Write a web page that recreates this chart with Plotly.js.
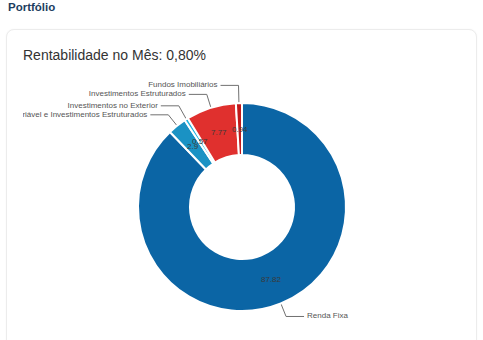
<!DOCTYPE html>
<html>
<head>
<meta charset="utf-8">
<script src="https://cdn.plot.ly/plotly-3.0.1.min.js"></script>
<style>
  html, body { margin: 0; padding: 0; background: #ffffff; width: 483px; height: 340px; overflow: hidden; }
  #hdr { position: absolute; left: 8px; top: 1px; font: bold 11.5px "Liberation Sans", Arial, sans-serif; color: #1d3d60; }
  #card { position: absolute; left: 6px; top: 29px; width: 469px; height: 320px; border: 1px solid #ececec; border-radius: 8px; box-shadow: 0 0 2px rgba(0,0,0,0.04); background: #fff; }
  #chart { position: absolute; left: 0; top: 0; width: 483px; height: 340px; }
</style>
</head>
<body>
<div id="hdr">Portfólio</div>
<div id="card"></div>
<div id="chart"></div>
<script>
// ---- data ----
const categories = [
  'Renda Fixa',
  'Renda Variável e Investimentos Estruturados',
  'Investimentos no Exterior',
  'Investimentos Estruturados',
  'Fundos Imobiliários'
];
const values = [87.82, 2.9, 0.57, 7.77, 0.94];
const colors = ['#0b65a5', '#1a92c4', '#22b4e1', '#e0302e', '#c0191b'];
const titleText = 'Rentabilidade no Mês: 0,80%';

// ---- geometry (pixels) ----
const W = 483, H = 340;
const ML = 23;             // chart area left edge (clips long labels like the original)
const CX = 242, CY = 207;  // donut centre
const R = 104;             // outer radius
const HOLE = 0.5;
const LEAD = 14, HSEG = 18, GAP = 9, TXTGAP = 3;

const total = values.reduce((a, b) => a + b, 0);
let cum = 0;
const mids = values.map(v => { const m = (cum + v / 2) / total * 2 * Math.PI; cum += v; return m; });
const pt = (ang, rad) => [CX + rad * Math.sin(ang), CY - rad * Math.cos(ang)];

// value labels (mid ring)
const rMid = R * (1 + HOLE) / 2;
const valPts = mids.map(a => pt(a, rMid));

// leader lines with simple vertical collision avoidance per side
const items = mids.map((a, i) => {
  const e = pt(a, R);
  const k = pt(a, R + LEAD);
  return { i, side: Math.sin(a) >= 0 ? 1 : -1, edge: e, ex: k[0], ey: k[1] };
});
[-1, 1].forEach(side => {
  const s = items.filter(o => o.side === side).sort((a, b) => b.ey - a.ey);
  for (let j = 1; j < s.length; j++) s[j].ey = Math.min(s[j].ey, s[j - 1].ey - GAP);
});

const lx = [], ly = [];
const tx = [], ty = [], tt = [], tp = [];
items.forEach(o => {
  const endX = o.ex + o.side * HSEG;
  lx.push(o.edge[0], o.ex, endX, null);
  ly.push(o.edge[1], o.ey, o.ey, null);
  tx.push(endX + o.side * TXTGAP);
  ty.push(o.ey);
  tt.push(categories[o.i]);
  tp.push(o.side > 0 ? 'middle right' : 'middle left');
});

const font = '"Liberation Sans", Arial, sans-serif';
const plotW = W - ML;

const data = [
  {
    type: 'pie',
    values: values,
    labels: categories,
    sort: false,
    direction: 'clockwise',
    rotation: 0,
    hole: HOLE,
    textinfo: 'none',
    hoverinfo: 'none',
    marker: { colors: colors, line: { color: '#ffffff', width: 2 } },
    domain: {
      x: [(CX - R - ML) / plotW, (CX + R - ML) / plotW],
      y: [(H - CY - R) / H, (H - CY + R) / H]
    },
    showlegend: false
  },
  {
    type: 'scatter', mode: 'lines', x: lx, y: ly,
    line: { color: '#707070', width: 1 }, hoverinfo: 'skip', showlegend: false
  },
  {
    type: 'scatter', mode: 'text', x: tx, y: ty, text: tt, textposition: tp,
    textfont: { family: font, size: 8, color: '#555555' }, hoverinfo: 'skip', showlegend: false
  }
];

// value labels drawn above the pie layer
const annotations = values.map((v, i) => ({
  x: valPts[i][0], y: valPts[i][1], xref: 'x', yref: 'y',
  text: String(v), showarrow: false,
  xanchor: 'center', yanchor: 'middle',
  font: { family: font, size: 8, color: '#3a3a3a' }
}));

const layout = {
  width: W, height: H,
  margin: { l: ML, r: 0, t: 0, b: 0 },
  paper_bgcolor: 'rgba(0,0,0,0)', plot_bgcolor: 'rgba(0,0,0,0)',
  title: {
    text: titleText,
    x: ML / W, xanchor: 'left', xref: 'container',
    y: 1 - 55 / H, yanchor: 'middle', yref: 'container',
    font: { family: font, size: 14, color: '#333333' }
  },
  xaxis: { range: [ML, W], visible: false, fixedrange: true },
  yaxis: { range: [H, 0], visible: false, fixedrange: true },
  annotations: annotations,
  showlegend: false
};

Plotly.newPlot('chart', data, layout, { displayModeBar: false, staticPlot: true });
</script>
</body>
</html>
